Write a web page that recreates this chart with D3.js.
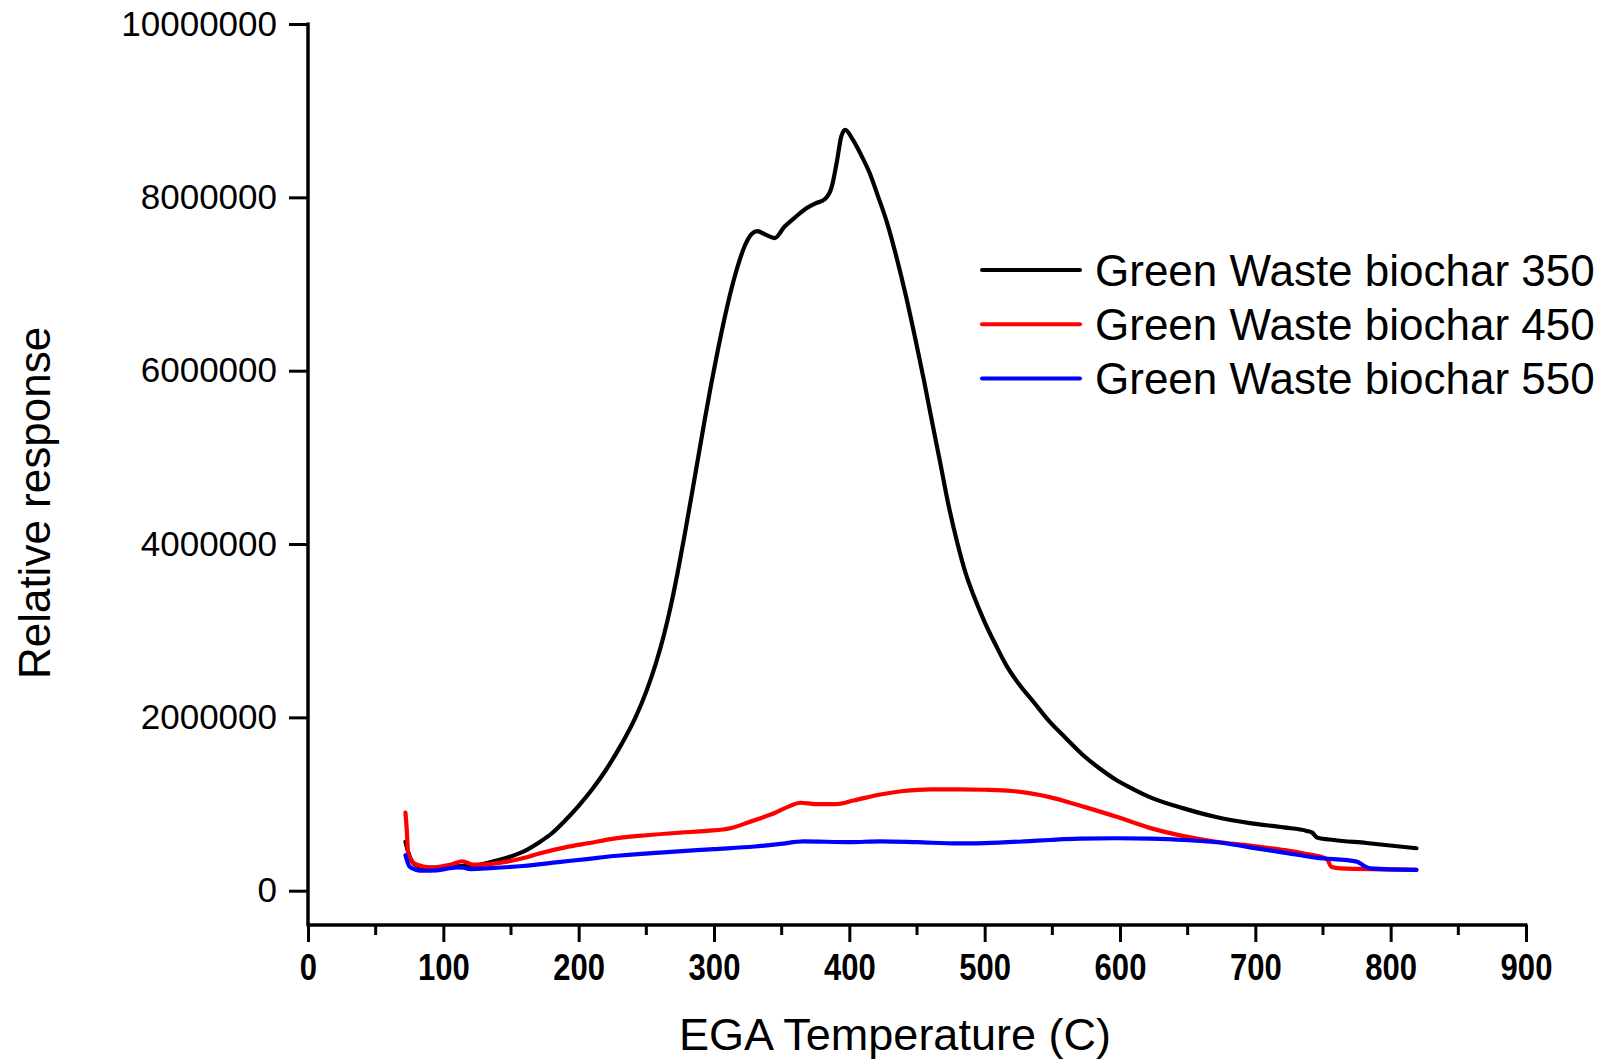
<!DOCTYPE html>
<html>
<head>
<meta charset="utf-8">
<script src="https://cdn.jsdelivr.net/npm/d3@7"></script>
<style>
body{margin:0;background:#fff;}
#viz_ega{width:1609px;height:1063px;}
.fonts{font-family:"Liberation Sans",Arial,sans-serif;fill:#000;}
</style>
</head>
<body>
<div id="viz_ega"></div>
<script>
// temperature (C) and relative response
var temp350=[72,75,80,90,105,117,125,135,147,159,171,180,190,200,210,220,232,242,250,257,263,268,273,278,283,288,293,298,303,308,313,318,323,328,332,338,345,352,360,368,375,382,387,391,394,397,402,408,415,421,428,435,442,449,455,461,467,473,480,486,492,500,508,516,526,536,548,560,573,585,597,610,622,647,671,696,721,738,742,746,758,782,819];
var resp350=[565000,400000,290000,265000,275000,290000,295000,330000,380000,450000,560000,660000,810000,980000,1170000,1390000,1700000,2000000,2300000,2620000,2950000,3280000,3660000,4080000,4520000,4970000,5420000,5850000,6250000,6620000,6950000,7230000,7450000,7580000,7610000,7570000,7530000,7660000,7770000,7870000,7930000,7980000,8120000,8430000,8700000,8780000,8680000,8510000,8280000,8020000,7700000,7300000,6850000,6350000,5900000,5420000,4950000,4470000,4000000,3660000,3400000,3100000,2840000,2600000,2370000,2180000,1950000,1760000,1560000,1410000,1280000,1170000,1080000,950000,850000,780000,730000,690000,670000,610000,585000,550000,490000];

var temp450=[72,73,74,78,85,90,105,114,122,135,147,160,171,190,208,226,250,275,295,312,324,335,344,355,364,375,390,403,423,440,460,480,500,520,535,548,560,573,598,622,647,671,696,721,736,753,756,763,795,819];
var resp450=[900000,700000,430000,320000,280000,270000,300000,340000,300000,310000,335000,380000,430000,500000,550000,600000,640000,670000,690000,720000,780000,840000,890000,970000,1015000,1000000,1000000,1040000,1110000,1150000,1170000,1170000,1165000,1150000,1120000,1080000,1030000,970000,850000,725000,630000,565000,520000,470000,430000,365000,277000,258000,247000,240000];

var temp550=[72,75,80,85,95,110,115,120,135,159,185,206,226,260,300,330,349,366,400,423,450,480,500,530,548,570,598,622,647,679,696,721,745,775,781,785,819];
var resp550=[410000,280000,240000,230000,235000,270000,265000,250000,260000,285000,330000,365000,400000,440000,480000,510000,540000,570000,560000,570000,560000,545000,550000,570000,585000,600000,605000,600000,585000,545000,500000,440000,380000,335000,280000,258000,240000];

var seriesNames=["Green Waste biochar 350","Green Waste biochar 450","Green Waste biochar 550"];
var seriesColors=["#000000","#ff0000","#0000ff"];

var xTicks=[0,100,200,300,400,500,600,700,800,900];
var xMinor=[50,150,250,350,450,550,650,750,850];
var yTicks=[0,2000000,4000000,6000000,8000000,10000000];

var width=1609, height=1063;

var svg_ega=d3.select("#viz_ega")
  .append("svg")
  .attr("width",width)
  .attr("height",height);

var XScale=d3.scaleLinear().domain([0,900]).range([308,1526]);
var YScale=d3.scaleLinear().domain([0,10000000]).range([890.7,24]);
var axisY=925;

function pairs(t,r){
  return t.map(function(d,i){return {t:d,v:r[i]};});
}
var dataset=[pairs(temp350,resp350),pairs(temp450,resp450),pairs(temp550,resp550)];

var line=d3.line()
  .x(function(d){return XScale(d.t);})
  .y(function(d){return YScale(d.v);})
  .curve(d3.curveMonotoneX);

svg_ega.selectAll(".curve")
  .data(dataset)
  .enter()
  .append("path")
  .attr("class","curve")
  .attr("d",line)
  .attr("fill","none")
  .attr("stroke",function(d,i){return seriesColors[i];})
  .attr("stroke-width",4.2)
  .attr("stroke-linejoin","round")
  .attr("stroke-linecap","round");

// y axis
var yAxis=d3.axisLeft(YScale)
  .tickValues(yTicks)
  .tickSize(19)
  .tickPadding(12)
  .tickFormat(d3.format("d"));

var gy=svg_ega.append("g")
  .attr("transform","translate(308,0)")
  .call(yAxis);
gy.select(".domain").remove();
gy.selectAll("line").attr("stroke","#000").attr("stroke-width",3);
gy.selectAll("text")
  .attr("class","fonts")
  .style("font-size","35px");

svg_ega.append("line")
  .attr("x1",308).attr("x2",308)
  .attr("y1",YScale(10000000)-1.5).attr("y2",axisY)
  .attr("stroke","#000").attr("stroke-width",3.5);

// x axis
var xAxis=d3.axisBottom(XScale)
  .tickValues(xTicks)
  .tickSize(17)
  .tickPadding(12)
  .tickFormat(d3.format("d"));

var gx=svg_ega.append("g")
  .attr("transform","translate(0,"+axisY+")")
  .call(xAxis);
gx.select(".domain").remove();
gx.selectAll("line").attr("stroke","#000").attr("stroke-width",3);
gx.selectAll("text")
  .attr("class","fonts")
  .style("font-size","37px")
  .style("font-weight","bold")
  .attr("transform","scale(0.84,1)");

svg_ega.append("g")
  .selectAll("line")
  .data(xMinor)
  .enter()
  .append("line")
  .attr("x1",function(d){return XScale(d);})
  .attr("x2",function(d){return XScale(d);})
  .attr("y1",axisY)
  .attr("y2",axisY+10)
  .attr("stroke","#000")
  .attr("stroke-width",3);

svg_ega.append("line")
  .attr("x1",308-1.5).attr("x2",XScale(900)+1.5)
  .attr("y1",axisY).attr("y2",axisY)
  .attr("stroke","#000").attr("stroke-width",3.5);

// axis titles
svg_ega.append("text")
  .attr("x",895)
  .attr("y",1050)
  .text("EGA Temperature (C)")
  .attr("class","fonts")
  .style("font-size","45px")
  .style("text-anchor","middle");

svg_ega.append("text")
  .attr("transform","translate(50,503) rotate(-90)")
  .text("Relative response")
  .attr("class","fonts")
  .style("font-size","44px")
  .style("text-anchor","middle");

// legend
var legend=svg_ega.selectAll(".legend")
  .data(seriesNames)
  .enter()
  .append("g")
  .attr("class","legend")
  .attr("transform",function(d,i){return "translate(0,"+(270+i*54.3)+")";});

legend.append("line")
  .attr("x1",982).attr("x2",1080)
  .attr("y1",0).attr("y2",0)
  .attr("stroke",function(d,i){return seriesColors[i];})
  .attr("stroke-width",4)
  .attr("stroke-linecap","round");

legend.append("text")
  .attr("x",1095)
  .attr("y",15.5)
  .text(function(d){return d;})
  .attr("class","fonts")
  .style("font-size","44px");
</script>
</body>
</html>
